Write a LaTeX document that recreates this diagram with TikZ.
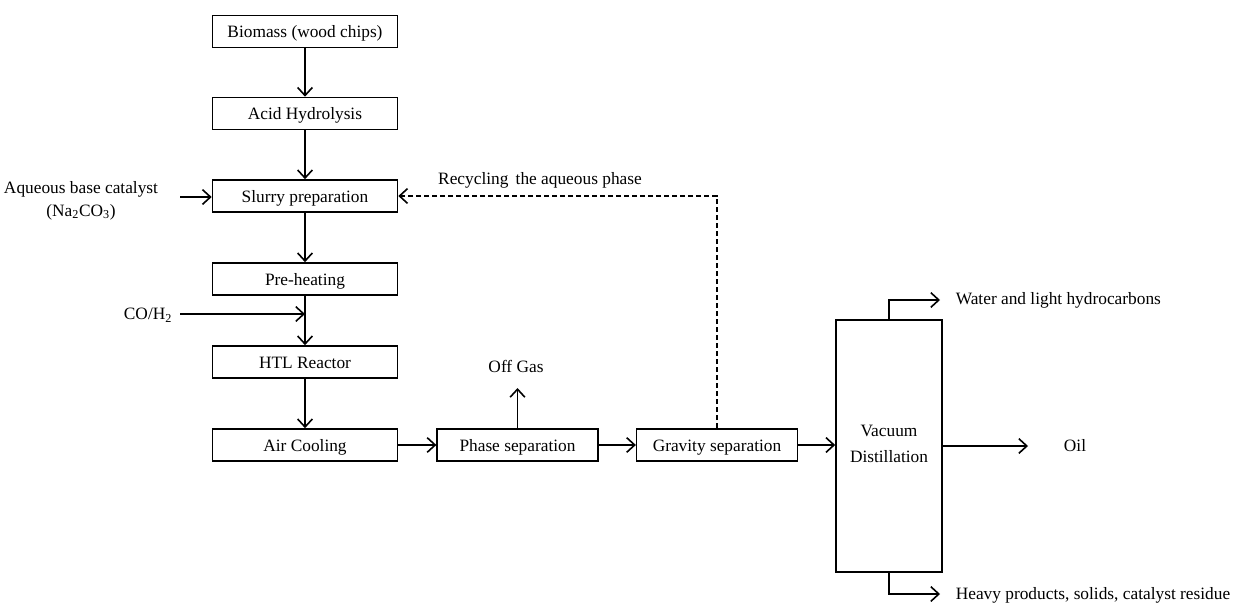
\documentclass[tikz,border=0pt]{standalone}
\usepackage{fontspec}
\setmainfont{Liberation Serif}
\usetikzlibrary{arrows.meta}
\begin{document}
\begin{tikzpicture}[x=0.75pt,y=-0.75pt,
  font=\fontsize{13pt}{15pt}\selectfont,
  line width=1.2pt,
  arr/.style={-{Straight Barb[length=6pt,width=11pt,line width=1.2pt]}},
  pbox/.style={draw,rectangle,minimum width=138.75pt,minimum height=24pt,inner sep=0pt,text height=12pt,text depth=2.4pt},
  sbox/.style={pbox,minimum width=120.5pt},
  lbl/.style={inner sep=0pt}]
\useasboundingbox (0,0) rectangle (1237,603);
\node[pbox] (bio) at (305,31.5) {Biomass (wood chips)};
\node[pbox] (acid) at (305,113.5) {Acid Hydrolysis};
\node[pbox] (slurry) at (305,196) {Slurry preparation};
\node[pbox] (pre) at (305,279) {Pre-heating};
\node[pbox] (htl) at (305,362) {HTL Reactor};
\node[pbox] (air) at (305,445) {Air Cooling};
\node[sbox] (phase) at (517.5,445) {Phase separation};
\node[sbox] (grav) at (717,445) {Gravity separation};
\node[draw,rectangle,minimum width=79.5pt,minimum height=189pt,inner sep=0pt] (vac) at (889,446) {};
\node[lbl,align=center] (vactxt) at (889,444) {Vacuum\\[5pt]Distillation};
\node[lbl,align=center] (aq) at (81,200.5) {Aqueous base catalyst\\[2pt](Na\textsubscript{2}CO\textsubscript{3})};
\node[lbl] (co) at (148,315) {CO/H\textsubscript{2}};
\node[lbl] (off) at (516,366) {Off Gas};
\node[lbl] (rec) at (540,180) {Recycling\, the aqueous phase};
\node[lbl,anchor=west] (water) at (955,300) {Water and light hydrocarbons};
\node[lbl] (oil) at (1075,446) {Oil};
\node[lbl,anchor=west] (heavy) at (955,595) {Heavy products, solids, catalyst residue};
\coordinate (aqs) at (180,197);
\coordinate (cos) at (180,314);
\coordinate (coe) at (305,314);
\coordinate (offe) at (517.5,388);
\coordinate (oile) at (1028,446);
\coordinate (wt) at (889,300);
\coordinate (we) at (940,300);
\coordinate (hb) at (889,594);
\coordinate (he) at (940,594);
\coordinate (rc) at (717,196);
\draw[arr] (bio) -- (acid);
\draw[arr] (acid) -- (slurry);
\draw[arr] (slurry) -- (pre);
\draw[arr] (pre) -- (htl);
\draw[arr] (htl) -- (air);
\draw[arr] (air) -- (phase);
\draw[arr] (phase) -- (grav);
\draw[arr] (grav) -- (grav.east -| vac.west);
\draw[arr] (aqs) -- (aqs -| slurry.west);
\draw[arr] (cos) -- (coe);
\draw[arr] (phase.north) -- (offe);
\draw[arr,dashed,dash pattern=on 4pt off 2pt] (grav.north) -- (rc) -- (slurry.east);
\draw[arr] (vac.east |- oile) -- (oile);
\draw[arr] (vac.north) -- (wt) -- (we);
\draw[arr] (vac.south) -- (hb) -- (he);
\end{tikzpicture}
\end{document}
